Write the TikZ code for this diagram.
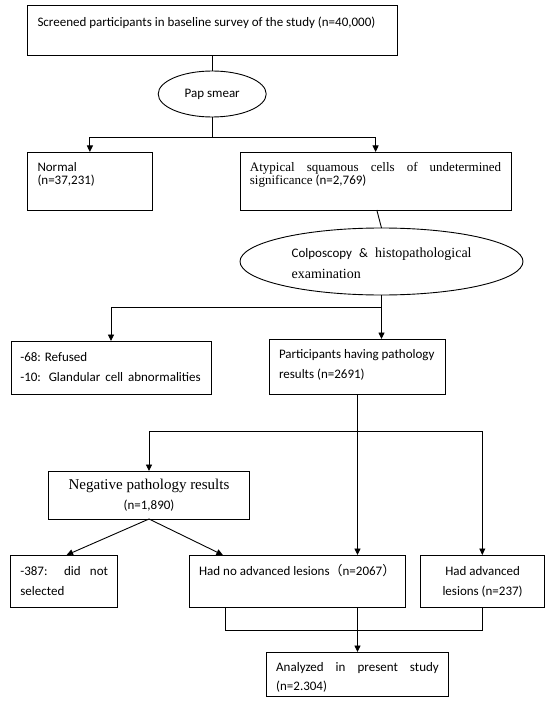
\documentclass[tikz,border=0pt]{standalone}
\usepackage{fontspec}
\setmainfont{Carlito}
\newfontfamily\tnr{Liberation Serif}
\newfontfamily\cjk{Noto Sans CJK SC}
\usetikzlibrary{arrows.meta,shapes.geometric,calc}
\begin{document}
\begin{tikzpicture}[x=1pt,y=-1pt,
  box/.style={draw, rectangle, line width=0.9pt, inner sep=0pt, outer sep=0pt},
  oval/.style={draw, ellipse, line width=0.9pt, inner sep=0pt, outer sep=0pt},
  txt/.style={inner sep=0pt, outer sep=0pt, font=\fontsize{13}{15}\selectfont},
  line/.style={line width=0.9pt},
  arr/.style={line width=0.9pt, -{Triangle[length=6.5pt,width=6pt]}},
]
\useasboundingbox (0,0) rectangle (550,703);
\fill[white] (0,0) rectangle (550,703);

% boxes and ovals
\node[box, minimum width=369.5pt, minimum height=49.8pt] (top) at (212.2,30.6) {};
\node[oval, minimum width=108pt, minimum height=46pt] (pap) at (212.2,94) {};
\node[box, minimum width=125.2pt, minimum height=58pt] (normal) at (89.9,181) {};
\node[box, minimum width=270.9pt, minimum height=58pt] (asc) at (375.6,181) {};
\node[oval, minimum width=283pt, minimum height=67pt] (colp) at (381.5,261.5) {};
\node[box, minimum width=200.1pt, minimum height=53pt] (refused) at (111,367.5) {};
\node[box, minimum width=175.9pt, minimum height=55pt] (part) at (357.2,366.5) {};
\node[box, minimum width=201.2pt, minimum height=48pt] (neg) at (149,495) {};
\node[box, minimum width=106.9pt, minimum height=52pt] (sel) at (64.35,581) {};
\node[box, minimum width=216.2pt, minimum height=52pt] (noadv) at (297.4,581) {};
\node[box, minimum width=123.4pt, minimum height=52pt] (adv) at (482.3,581) {};
\node[box, minimum width=182pt, minimum height=44pt] (anal) at (357.7,674) {};

% texts
\node[txt, anchor=base west] (topt) at (37.5,26.5) {Screened participants in baseline survey of the study (n=40,000)};
\node[txt, anchor=base] (papt) at (212.2,97.5) {Pap smear};
\node[txt, anchor=base west] (normalt1) at (37.5,171.5) {Normal};
\node[txt, anchor=base west] (normalt2) at (37.5,185) {(n=37,231)};
\node[txt, anchor=base west] (asct1) at (249.9,171.5) {\tnr\fontsize{13}{15}\selectfont\makebox[251.3pt][s]{Atypical squamous cells of undetermined}};
\node[txt, anchor=base west] (asct2) at (249.9,185) {{\tnr\fontsize{13}{15}\selectfont significance} (n=2,769)};
\node[txt, anchor=base west] (colpt1) at (291.6,257) {\makebox[180pt][s]{Colposcopy \& {\tnr\fontsize{14}{16}\selectfont histopathological}}};
\node[txt, anchor=base west] (colpt2) at (291.6,278) {\tnr\fontsize{14}{16}\selectfont examination};
\node[txt, anchor=base west] (reft1) at (20.3,361.5) {-68: Refused};
\node[txt, anchor=base west] (reft2) at (20.3,381.5) {\makebox[180.5pt][s]{-10: Glandular cell abnormalities}};
\node[txt, anchor=base west] (partt1) at (279,358.5) {Participants having pathology};
\node[txt, anchor=base west] (partt2) at (279,378) {results (n=2691)};
\node[txt, anchor=base] (negt1) at (149,489.5) {\tnr\fontsize{15}{17}\selectfont Negative pathology results};
\node[txt, anchor=base] (negt2) at (149,509) {(n=1,890)};
\node[txt, anchor=base west] (selt1) at (20.3,575) {\makebox[87.7pt][s]{-387: did not}};
\node[txt, anchor=base west] (selt2) at (20.3,595) {selected};
\node[txt, anchor=base west] (noadvt) at (199.1,575) {Had no advanced lesions{\cjk （}n=2067{\cjk ）}};
\node[txt, anchor=base] (advt1) at (482.6,575) {Had advanced};
\node[txt, anchor=base] (advt2) at (482.6,595) {lesions (n=237)};
\node[txt, anchor=base west] (analt1) at (276.2,671.7) {\makebox[162.6pt][s]{Analyzed in present study}};
\node[txt, anchor=base west] (analt2) at (276.2,690) {(n=2.304)};

% connectors
\coordinate (j1) at (212.2,137);
\coordinate (j2) at (381.5,307);
\coordinate (j3) at (357.5,431);
\coordinate (j4) at (225.4,630);

\draw[line] (top.south) -- (pap.north);
\draw[line] (pap.south) -- (j1);
\draw[arr] (j1) -| (normal.north);
\draw[arr] (j1) -| (asc.north);
\draw[line] ([xshift=1.2pt]asc.south) -- (colp.north);
\draw[line] (colp.south) -- (j2);
\draw[arr] (j2) -| (refused.north);
\draw[arr] (j2) -- ([xshift=24.3pt]part.north);
\draw[line] ([xshift=0.3pt]part.south) -- (j3);
\draw[arr] (j3) -| (neg.north);
\draw[arr] (j3) -| (adv.north);
\draw[arr] (j3) -- (j3 |- noadv.north);
\draw[arr] (neg.south) -- ([xshift=2.25pt]sel.north);
\draw[arr] (neg.south) -- ([xshift=33.6pt]noadv.north west);
\draw[line] (j4 |- noadv.south) -- (j4) -| (adv.south);
\draw[arr] (j3 |- noadv.south) -- (j3 |- anal.north);
\end{tikzpicture}
\end{document}
